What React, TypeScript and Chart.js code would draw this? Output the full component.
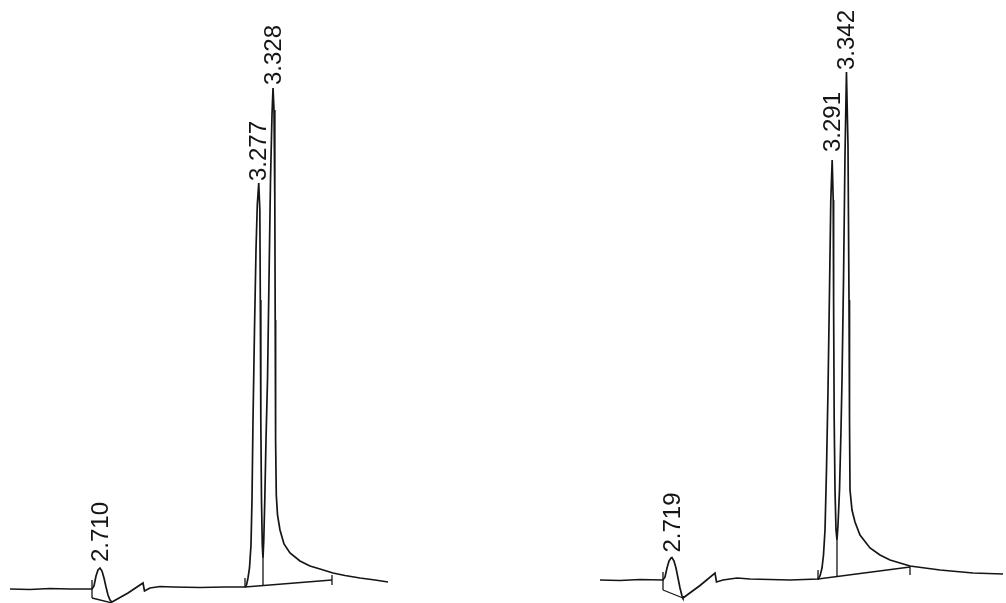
import React, { useEffect, useRef } from "react";
import { Chart, registerables } from "chart.js";

Chart.register(...registerables);

// ---- Left chromatogram (retention time in min, detector signal in arbitrary units)
const leftTime = [
  2.3886, 2.4601, 2.5315, 2.6029, 2.6815, 2.6886, 2.6958, 2.7029, 2.710, 2.7172,
  2.7243, 2.7315, 2.7386, 2.7458, 2.7529, 2.8101, 2.8636, 2.869, 2.8886, 2.9243,
  2.9708, 3.0672, 3.1565, 3.2279, 3.2333, 3.2386, 3.244, 3.2493, 3.2529, 3.2565,
  3.2618, 3.2672, 3.2718, 3.277, 3.2809, 3.2826, 3.2844, 3.2868, 3.2897, 3.2922,
  3.295, 3.2986, 3.3029, 3.3083, 3.3136, 3.319, 3.3243, 3.328, 3.3315, 3.3344,
  3.3358, 3.3372, 3.3397, 3.344, 3.3529, 3.3672, 3.3886, 3.4243, 3.46, 3.4958,
  3.5422, 3.585, 3.6386, 3.6922, 3.7386,
];
const leftSignal = [
  0, -0.5, 0.5, 0, 0, 3, 13, 19, 21, 18,
  11, 2, -6, -11, -13, -4, 6, -2, 1, 2.5,
  2, 1.5, 2, 2, 4, 11, 21, 44, 89, 169,
  259, 339, 384, 406, 379, 289, 169, 89, 44, 31,
  49, 89, 149, 209, 309, 409, 474, 501, 479, 389,
  269, 149, 94, 74, 59, 45, 36, 28, 23, 20,
  16, 13.5, 11, 9, 7,
];
const leftPeakTimes = [2.710, 3.277, 3.328];
const leftPeakHeights = [21, 406, 501];
const leftPeakLabels = ["2.710", "3.277", "3.328"];
// integration marks: [t1, v1, t2, v2]
const leftMarks = [
  [2.6815, 9, 2.6815, -9],
  [2.6815, -9, 2.7529, -14],
  [3.2279, 11, 3.2279, 2],
  [3.2279, 2, 3.5386, 9],
  [3.5386, 14, 3.5386, 4],
  [3.2922, 31, 3.2922, 3.5],
];

// ---- Right chromatogram
const rightTime = [
  2.4618, 2.5332, 2.6047, 2.6868, 2.694, 2.7011, 2.7082, 2.7154, 2.719, 2.7261,
  2.7332, 2.7404, 2.7475, 2.7547, 2.7582, 2.819, 2.8725, 2.8779, 2.9011, 2.9511,
  2.9975, 3.1404, 3.2404, 3.2475, 3.2547, 3.26, 3.2654, 3.2707, 3.2761, 3.2815,
  3.2861, 3.291, 3.2947, 3.2961, 3.2982, 3.3011, 3.3047, 3.3082, 3.3118, 3.3172,
  3.3225, 3.3261, 3.3315, 3.3368, 3.342, 3.3475, 3.3511, 3.3529, 3.3547, 3.3618,
  3.3725, 3.3904, 3.4261, 3.4618, 3.4975, 3.569, 3.6761, 3.794, 3.9011,
];
const rightSignal = [
  0, -0.5, 0.5, 0, 3, 12, 19, 22, 22.5, 19,
  12, 2, -8, -16, -18, -5.5, 7, -2, 0, 2,
  1, 0, 1, 4, 12, 25, 50, 110, 190, 290,
  380, 420, 380, 280, 160, 90, 50, 40, 55, 90,
  150, 200, 300, 425, 508, 435, 280, 160, 90, 70,
  58, 45, 32, 25, 20, 14, 10, 7, 6,
];
const rightPeakTimes = [2.719, 3.291, 3.342];
const rightPeakHeights = [22.5, 420, 508];
const rightPeakLabels = ["2.719", "3.291", "3.342"];
const rightMarks = [
  [2.6868, 8, 2.6868, -10],
  [2.6868, -10, 2.7582, -18],
  [3.2404, 10, 3.2404, 0],
  [3.2404, 1, 3.569, 13],
  [3.569, 14, 3.569, 5],
  [3.3082, 40, 3.3082, 3.5],
];

// label clearance above each peak apex (px) — styling only
const leftLabelGaps = [6, 2, 3];
const rightLabelGaps = [5, 8, 2];

const INK = "#151515";

type Panel = {
  time: number[];
  signal: number[];
  peakTimes: number[];
  peakHeights: number[];
  peakLabels: string[];
  labelGaps: number[];
  marks: number[][];
  xMin: number;
  xMax: number;
  yMin: number;
  yMax: number;
};

function ChromCanvas({ panel, left, width }: { panel: Panel; left: number; width: number }) {
  const ref = useRef<HTMLCanvasElement | null>(null);
  useEffect(() => {
    if (!ref.current) return;
    const labelPlugin = {
      id: "peakLabels",
      afterDatasetsDraw(chart: any) {
        const ctx = chart.ctx;
        const xs = chart.scales.x;
        const ys = chart.scales.y;
        ctx.save();
        ctx.fillStyle = INK;
        ctx.font = "24px 'Liberation Sans', Arial, sans-serif";
        ctx.textAlign = "left";
        ctx.textBaseline = "middle";
        panel.peakTimes.forEach((t, i) => {
          const px = xs.getPixelForValue(t);
          const py = ys.getPixelForValue(panel.peakHeights[i]) - panel.labelGaps[i];
          ctx.save();
          ctx.translate(px + 1, py);
          ctx.rotate(-Math.PI / 2);
          ctx.fillText(panel.peakLabels[i], 0, 0);
          ctx.restore();
        });
        ctx.restore();
      },
    };
    const datasets: any[] = [
      {
        data: panel.time.map((t, i) => ({ x: t, y: panel.signal[i] })),
        borderColor: INK,
        borderWidth: 1.7,
        pointRadius: 0,
        tension: 0,
        fill: false,
      },
      ...panel.marks.map((m) => ({
        data: [
          { x: m[0], y: m[1] },
          { x: m[2], y: m[3] },
        ],
        borderColor: INK,
        borderWidth: 1.3,
        pointRadius: 0,
        tension: 0,
        fill: false,
      })),
    ];
    const chart = new Chart(ref.current, {
      type: "line",
      data: { datasets },
      options: {
        animation: false,
        responsive: false,
        maintainAspectRatio: false,
        layout: { padding: 0 },
        plugins: { legend: { display: false }, tooltip: { enabled: false } },
        scales: {
          x: { type: "linear", display: false, min: panel.xMin, max: panel.xMax },
          y: { type: "linear", display: false, min: panel.yMin, max: panel.yMax },
        },
      },
      plugins: [labelPlugin],
    });
    return () => chart.destroy();
  }, [panel]);
  return (
    <canvas
      ref={ref}
      width={width}
      height={603}
      style={{ position: "absolute", left, top: 0, width, height: 603 }}
    />
  );
}

const leftPanel: Panel = {
  time: leftTime,
  signal: leftSignal,
  peakTimes: leftPeakTimes,
  peakHeights: leftPeakHeights,
  peakLabels: leftPeakLabels,
  labelGaps: leftLabelGaps,
  marks: leftMarks,
  xMin: 2.3529,
  xMax: 3.7815,
  yMin: -14,
  yMax: 589,
};

const rightPanel: Panel = {
  time: rightTime,
  signal: rightSignal,
  peakTimes: rightPeakTimes,
  peakHeights: rightPeakHeights,
  peakLabels: rightPeakLabels,
  labelGaps: rightLabelGaps,
  marks: rightMarks,
  xMin: 2.4261,
  xMax: 3.9118,
  yMin: -23,
  yMax: 580,
};

export default function App() {
  return (
    <div
      style={{
        position: "absolute",
        left: 0,
        top: 0,
        width: 1006,
        height: 603,
        background: "#fff",
        overflow: "hidden",
      }}
    >
      <ChromCanvas panel={leftPanel} left={0} width={400} />
      <ChromCanvas panel={rightPanel} left={590} width={416} />
    </div>
  );
}
